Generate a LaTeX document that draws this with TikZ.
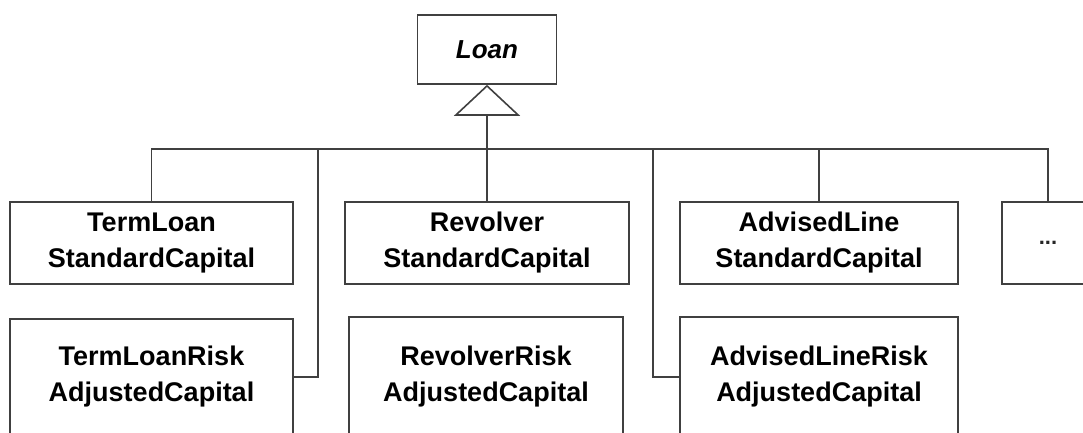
\documentclass[tikz,border=0pt]{standalone}
\usepackage{fontspec}
\setmainfont{Liberation Sans}
\usetikzlibrary{arrows.meta}

\begin{document}
\begin{tikzpicture}[x=1pt, y=-1pt,
  cls/.style={draw=black!75, line width=1.6pt, fill=white, align=center, inner sep=0pt,
    font=\bfseries\fontsize{27}{36}\selectfont},
  conn/.style={draw=black!75, line width=1.6pt},
  isa/.style={-{Triangle[open, width=66pt, length=31pt]}}
]
  \useasboundingbox (0,0) rectangle (1083,432);
  \clip (0,0) rectangle (1083,432);
  % abstract base class
  \node[cls, minimum width=139pt, minimum height=69pt,
        font=\bfseries\itshape\fontsize{26}{36}\selectfont] (loan) at (487,49.5) {Loan};
  % first row
  \node[cls, minimum width=283pt, minimum height=82pt] (tl)   at (151.5,243) {TermLoan\\StandardCapital};
  \node[cls, minimum width=284pt, minimum height=82pt] (rev)  at (487,243)   {Revolver\\StandardCapital};
  \node[cls, minimum width=278pt, minimum height=82pt] (al)   at (819,243)   {AdvisedLine\\StandardCapital};
  \node[cls, minimum width=92pt,  minimum height=82pt,
        font=\bfseries\fontsize{22}{24}\selectfont, text=black!85] (more) at (1048,243) {...};
  % second row
  \node[cls, minimum width=283pt, minimum height=116pt] (tlr)  at (151.5,377) {TermLoanRisk\\AdjustedCapital};
  \node[cls, minimum width=274pt, minimum height=120pt] (revr) at (486,377)   {RevolverRisk\\AdjustedCapital};
  \node[cls, minimum width=278pt, minimum height=120pt] (alr)  at (819,377)   {AdvisedLineRisk\\AdjustedCapital};

  \coordinate (hub) at (487,149);
  \coordinate (j1) at (318,149);
  \coordinate (j2) at (653,149);

  \draw[conn, isa] (rev.north) -- (loan.south);
  \draw[conn] (tl.north) |- (hub) -| (more.north);
  \draw[conn] (al.north) -- (al.north |- hub);
  \draw[conn] (tlr.east) -| (j1);
  \draw[conn] (alr.west) -| (j2);
\end{tikzpicture}
\end{document}
